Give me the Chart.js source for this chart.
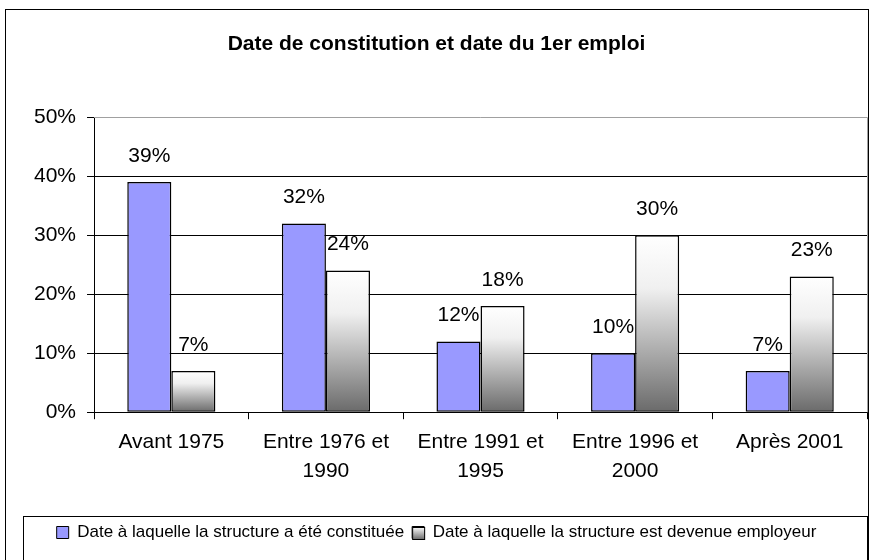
<!DOCTYPE html>
<html>
<head>
<meta charset="utf-8">
<script src="https://cdn.jsdelivr.net/npm/chart.js@4"></script>
<style>
html, body { margin: 0; padding: 0; background: #fff; }
#wrap { width: 873px; height: 560px; position: relative; }
</style>
</head>
<body>
<div id="wrap"><canvas id="chart"></canvas></div>
<script>
// categories, with line breaks as on the picture
var categories = [["Avant 1975"], ["Entre 1976 et", "1990"], ["Entre 1991 et", "1995"], ["Entre 1996 et", "2000"], ["Après 2001"]];
var seriesNames = ["Date à laquelle la structure a été constituée", "Date à laquelle la structure est devenue employeur"];
var constituee = [39, 32, 12, 10, 7];
var employeur = [7, 24, 18, 30, 23];
var yTicks = [0, 10, 20, 30, 40, 50];

var FONT = "'Liberation Sans', Arial, sans-serif";

// gray bars: white at top, dark gray at the base, one gradient per bar
function grayGradient(c) {
    var chart = c.chart;
    if (!chart.chartArea || c.raw === undefined) return '#c8c8c8';
    var y = chart.scales.y;
    var top = y.getPixelForValue(c.raw);
    var base = y.getPixelForValue(0);
    var g = chart.ctx.createLinearGradient(0, top, 0, base);
    g.addColorStop(0, '#ffffff');
    g.addColorStop(0.3, '#f0f0f0');
    g.addColorStop(1, '#6a6a6a');
    return g;
}

var decorPlugin = {
    id: 'decor',
    beforeDraw: function(chart) {
        var ctx = chart.ctx;
        ctx.save();
        ctx.fillStyle = '#fff';
        ctx.fillRect(0, 0, chart.width, chart.height);
        ctx.strokeStyle = '#000';
        ctx.lineWidth = 1;
        ctx.strokeRect(5.5, 9.5, 863, 600);
        ctx.restore();
    },
    beforeDatasetsDraw: function(chart) {
        var a = chart.chartArea, ctx = chart.ctx;
        ctx.save();
        ctx.strokeStyle = '#a0a0a0';
        ctx.lineWidth = 1;
        ctx.beginPath();
        ctx.moveTo(a.left, Math.round(a.top) + 0.5);
        ctx.lineTo(Math.round(a.right) + 0.5, Math.round(a.top) + 0.5);
        ctx.lineTo(Math.round(a.right) + 0.5, a.bottom);
        ctx.stroke();
        ctx.restore();
    },
    afterDatasetsDraw: function(chart) {
        var ctx = chart.ctx;
        ctx.save();
        ctx.font = '21px ' + FONT;
        ctx.fillStyle = '#000';
        ctx.textAlign = 'center';
        ctx.textBaseline = 'middle';
        chart.data.datasets.forEach(function(ds, i) {
            chart.getDatasetMeta(i).data.forEach(function(bar, j) {
                ctx.fillText(ds.data[j] + '%', bar.x, bar.y - 26);
            });
        });
        ctx.restore();
    },
    afterDraw: function(chart) {
        var lg = chart.legend;
        if (!lg || !lg.legendHitBoxes || !lg.legendHitBoxes.length) return;
        var hb = lg.legendHitBoxes[0];
        var cy = hb.top + hb.height / 2;
        var ctx = chart.ctx;
        ctx.save();
        // legend frame
        ctx.strokeStyle = '#000';
        ctx.lineWidth = 1;
        ctx.strokeRect(23.5, Math.round(cy - 17) + 0.5, 844, 200);
        // gradient swatch for the second series
        var hb2 = lg.legendHitBoxes[1];
        if (hb2) {
            var bs = lg.options.labels.boxWidth;
            var top = Math.round(cy - bs / 2);
            var g = ctx.createLinearGradient(0, top, 0, top + bs);
            g.addColorStop(0, '#ffffff');
            g.addColorStop(1, '#707070');
            ctx.fillStyle = g;
            ctx.fillRect(hb2.left + 0.5, top + 0.5, bs, bs);
            ctx.strokeRect(hb2.left + 0.5, top + 0.5, bs, bs);
        }
        ctx.restore();
    }
};

new Chart(document.getElementById('chart'), {
    type: 'bar',
    data: {
        labels: categories,
        datasets: [
            {
                label: seriesNames[0],
                data: constituee,
                backgroundColor: '#9999ff',
                borderColor: '#000',
                borderWidth: 1.5,
                borderSkipped: false,
                categoryPercentage: 0.57,
                barPercentage: 1
            },
            {
                label: seriesNames[1],
                data: employeur,
                backgroundColor: grayGradient,
                borderColor: '#000',
                borderWidth: 1.5,
                borderSkipped: false,
                categoryPercentage: 0.57,
                barPercentage: 1
            }
        ]
    },
    options: {
        responsive: true,
        maintainAspectRatio: false,
        animation: false,
        layout: { padding: { left: 6, right: 6, top: 10, bottom: 9 } },
        plugins: {
            title: {
                display: true,
                text: 'Date de constitution et date du 1er emploi',
                color: '#000',
                font: { family: FONT, size: 21, weight: 'bold', lineHeight: 1.2 },
                padding: { top: 22, bottom: 60 }
            },
            legend: {
                position: 'bottom',
                labels: {
                    color: '#000',
                    font: { family: FONT, size: 17 },
                    boxWidth: 12,
                    boxHeight: 12,
                    padding: 8,
                    generateLabels: function(chart) {
                        return chart.data.datasets.map(function(ds, i) {
                            return {
                                text: ds.label,
                                fillStyle: i === 0 ? '#9999ff' : '#c8c8c8',
                                strokeStyle: '#000',
                                lineWidth: 1,
                                datasetIndex: i
                            };
                        });
                    }
                }
            },
            tooltip: { enabled: false }
        },
        scales: {
            x: {
                grid: { display: true, drawOnChartArea: false, drawTicks: true, tickLength: 7, color: '#000', offset: true },
                border: { display: true, color: '#000', width: 1 },
                ticks: { color: '#000', padding: 8, maxRotation: 0, autoSkip: false, font: { family: FONT, size: 21, lineHeight: 1.4 } },
                afterFit: function(s) { s.height += 22; }
            },
            y: {
                min: 0,
                max: 50,
                afterBuildTicks: function(s) { s.ticks = yTicks.map(function(v) { return { value: v }; }); },
                afterFit: function(s) { s.width += 17; },
                grid: {
                    color: function(c) { return c.tick && c.tick.value === 50 ? 'rgba(0,0,0,0)' : '#000'; },
                    tickColor: '#000',
                    tickLength: 7,
                    lineWidth: 1
                },
                border: { display: true, color: '#000', width: 1 },
                ticks: {
                    color: '#000',
                    padding: 11,
                    font: { family: FONT, size: 21 },
                    callback: function(v) { return v + '%'; }
                }
            }
        }
    },
    plugins: [decorPlugin]
});
</script>
</body>
</html>
